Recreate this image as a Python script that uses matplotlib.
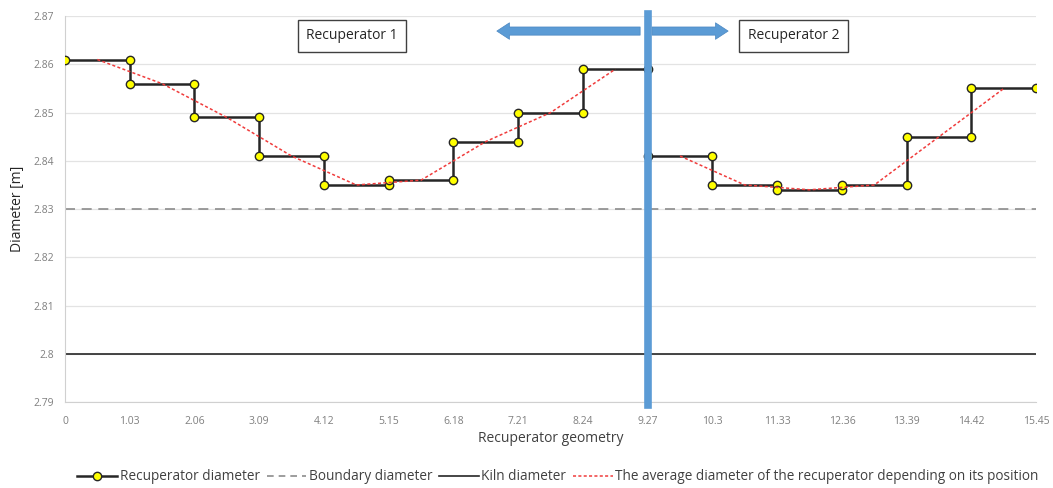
import matplotlib.pyplot as plt
import numpy as np

plt.rcParams['font.family'] = ['Open Sans', 'DejaVu Sans']

# recuperator 1 steps
x1 = [0, 1.03, 1.03, 2.06, 2.06, 3.09, 3.09, 4.12, 4.12, 5.15, 5.15, 6.18, 6.18, 7.21, 7.21, 8.24, 8.24, 9.27]
d1 = [2.861, 2.861, 2.856, 2.856, 2.849, 2.849, 2.841, 2.841, 2.835, 2.835, 2.836, 2.836, 2.844, 2.844, 2.850, 2.850, 2.859, 2.859]
# recuperator 2 steps
x2 = [9.27, 10.3, 10.3, 11.33, 11.33, 12.36, 12.36, 13.39, 13.39, 14.42, 14.42, 15.45]
d2 = [2.841, 2.841, 2.835, 2.835, 2.834, 2.834, 2.835, 2.835, 2.845, 2.845, 2.855, 2.855]

# average diameter (midpoints of segments)
xa1 = [0.515, 1.545, 2.575, 3.605, 4.635, 5.665, 6.695, 7.725, 8.755]
da1 = [2.861, 2.856, 2.849, 2.841, 2.835, 2.836, 2.844, 2.850, 2.859]
xa2 = [9.785, 10.815, 11.845, 12.875, 13.905, 14.935]
da2 = [2.841, 2.835, 2.834, 2.835, 2.845, 2.855]

boundary = 2.83
kiln = 2.8
split = 9.27

xticks = [0, 1.03, 2.06, 3.09, 4.12, 5.15, 6.18, 7.21, 8.24, 9.27, 10.3, 11.33, 12.36, 13.39, 14.42, 15.45]
xlabels = ['0', '1.03', '2.06', '3.09', '4.12', '5.15', '6.18', '7.21', '8.24', '9.27', '10.3', '11.33', '12.36', '13.39', '14.42', '15.45']
yticks = [2.79, 2.8, 2.81, 2.82, 2.83, 2.84, 2.85, 2.86, 2.87]
ylabels = ['2.79', '2.8', '2.81', '2.82', '2.83', '2.84', '2.85', '2.86', '2.87']

fig = plt.figure(figsize=(10.53, 4.88), dpi=100)
ax = fig.add_axes([0.0617, 0.176, 0.9223, 0.791])

ax.set_xlim(0, 15.45)
ax.set_ylim(2.79, 2.87)
ax.set_yticks(yticks)
ax.set_yticklabels(ylabels)
ax.set_xticks(xticks)
ax.set_xticklabels(xlabels)
ax.tick_params(axis='both', length=0, labelsize=7.5, colors='#7f7f7f')
ax.tick_params(axis='x', pad=10)
ax.tick_params(axis='y', pad=8)
ax.grid(axis='y', color='#e3e3e3', lw=0.9)
ax.set_axisbelow(True)
for s in ['top', 'right']:
    ax.spines[s].set_visible(False)
for s in ['left', 'bottom']:
    ax.spines[s].set_color('#d0d0d0')

ax.axhline(boundary, color='#8c8c8c', ls=(0, (6, 4)), lw=1.2)
ax.axhline(kiln, color='#262626', lw=1.2)

mk = dict(marker='o', ms=6, mfc='#ffff00', mec='#262626', mew=1.0)
ax.plot(x1, d1, color='#262626', lw=1.8, zorder=3, **mk)
ax.plot(x2, d2, color='#262626', lw=1.8, zorder=3, **mk)
ax.plot(xa1, da1, color='#f03c3c', ls=(0, (2, 1.5)), lw=1.1, zorder=4)
ax.plot(xa2, da2, color='#f03c3c', ls=(0, (2, 1.5)), lw=1.1, zorder=4)

ax.axvline(split, ymin=-0.008, ymax=1.005, color='#5b9bd5', lw=5.5, zorder=5, clip_on=False)

arrow = dict(arrowstyle='simple,head_length=0.65,head_width=0.85,tail_width=0.42',
             color='#5b9bd5', ec='#4a86c0', lw=0.5, mutation_scale=14, shrinkA=0, shrinkB=0)
ax.annotate('', xy=(6.87, 2.8669), xytext=(9.15, 2.8669), arrowprops=arrow, zorder=6)
ax.annotate('', xy=(10.55, 2.8669), xytext=(9.34, 2.8669), arrowprops=arrow, zorder=6)

box = dict(boxstyle='square,pad=0.6', fc='white', ec='#404040', lw=1.0)
ax.text(4.57, 2.8659, 'Recuperator 1', ha='center', va='center', fontsize=10, color='#262626', bbox=box, zorder=7)
ax.text(11.59, 2.8659, 'Recuperator 2', ha='center', va='center', fontsize=10, color='#262626', bbox=box, zorder=7)

ax.set_xlabel('Recuperator geometry', fontsize=10, color='#404040', labelpad=3)
ax.set_ylabel('Diameter [m]', fontsize=10, color='#262626', labelpad=6)

h1, = ax.plot([], [], color='#262626', lw=1.8, **mk)
h2, = ax.plot([], [], color='#8c8c8c', ls=(0, (4, 3)), lw=1.2)
h3, = ax.plot([], [], color='#262626', lw=1.2)
h4, = ax.plot([], [], color='#f03c3c', ls=(0, (2, 1.5)), lw=1.1)
fig.legend([h1, h2, h3, h4],
           ['Recuperator diameter', 'Boundary diameter', 'Kiln diameter',
            'The average diameter of the recuperator depending on its position'],
           loc='center', bbox_to_anchor=(0.53, 0.023), ncol=4, frameon=False,
           fontsize=9.8, handlelength=2.9, handletextpad=0.2, columnspacing=0.5,
           labelcolor='#404040')

fig.savefig('out.png', dpi=100)
